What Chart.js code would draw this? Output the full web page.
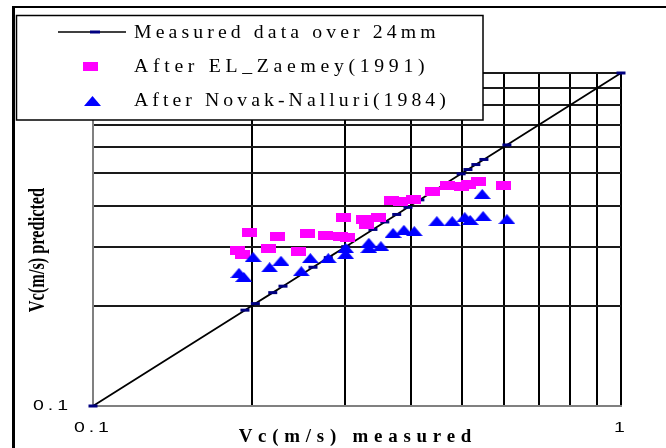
<!DOCTYPE html>
<html><head><meta charset="utf-8">
<script src="https://cdn.jsdelivr.net/npm/chart.js@4.4.1/dist/chart.umd.min.js"></script>
<style>html,body{margin:0;padding:0;background:#fff;}canvas{display:block;}</style>
</head><body>
<canvas id="c" width="666" height="448"></canvas>
<script>
// ---- data ----
const seriesNames = ['Measured data over 24mm', 'After EL_Zaemey(1991)', 'After Novak-Nalluri(1984)'];
const measuredX = [0.1, 0.194, 0.203, 0.219, 0.229, 0.261, 0.279, 0.301, 0.339, 0.357, 0.376, 0.395, 0.416, 0.498, 0.513, 0.531, 0.55, 0.608, 1.0];
const measuredY = [0.1, 0.194, 0.203, 0.219, 0.229, 0.261, 0.279, 0.301, 0.339, 0.357, 0.376, 0.395, 0.416, 0.498, 0.513, 0.531, 0.55, 0.608, 1.0];
const zaemeyX = [0.188, 0.192, 0.198, 0.215, 0.224, 0.245, 0.255, 0.276, 0.294, 0.303, 0.298, 0.326, 0.330, 0.347, 0.368, 0.383, 0.404, 0.440, 0.470, 0.498, 0.515, 0.538, 0.600];
const zaemeyY = [0.294, 0.286, 0.331, 0.298, 0.322, 0.292, 0.329, 0.324, 0.322, 0.320, 0.369, 0.362, 0.350, 0.369, 0.413, 0.410, 0.418, 0.442, 0.458, 0.455, 0.464, 0.471, 0.458];
const novakX = [0.189, 0.193, 0.201, 0.216, 0.227, 0.248, 0.258, 0.279, 0.301, 0.301, 0.333, 0.333, 0.351, 0.370, 0.388, 0.406, 0.448, 0.479, 0.506, 0.518, 0.548, 0.546, 0.608];
const novakY = [0.251, 0.244, 0.280, 0.261, 0.273, 0.254, 0.278, 0.278, 0.298, 0.286, 0.309, 0.298, 0.302, 0.331, 0.338, 0.335, 0.359, 0.359, 0.369, 0.362, 0.372, 0.433, 0.364];
const gridValues = [0.1, 0.2, 0.3, 0.4, 0.5, 0.6, 0.7, 0.8, 0.9, 1];
const xTickValues = [0.1, 1];
const xTickLabels = ['0.1', '1'];
const yTickValues = [0.1];
const yTickLabels = ['0.1'];
const xTitle = 'Vc(m/s) measured';
const yTitle = 'Vc(m/s) predicted';

const zip = (xs, ys) => xs.map((x, i) => ({x: x, y: ys[i]}));

function makeRect(w, h, color) {
  const c = document.createElement('canvas'); c.width = w; c.height = h;
  const g = c.getContext('2d'); g.fillStyle = color; g.fillRect(0, 0, w, h); return c;
}
function makeTri(w, h, color) {
  const c = document.createElement('canvas'); c.width = w; c.height = h;
  const g = c.getContext('2d'); g.fillStyle = color;
  g.beginPath(); g.moveTo(w / 2, 0); g.lineTo(w, h); g.lineTo(0, h); g.closePath(); g.fill(); return c;
}
const rectImg = makeRect(15, 9, '#FF00FF');
const triImg = makeTri(17, 10, '#0000FF');

// draws letter-spaced text, optionally stretched horizontally
function drawSpaced(ctx, text, x, y, align, ls, sx) {
  sx = sx || 1;
  ctx.save();
  ctx.letterSpacing = ls + 'px';
  ctx.textAlign = 'left';
  const w = (ctx.measureText(text).width - ls) * sx;
  const left = align === 'center' ? x - w / 2 : (align === 'right' ? x - w : x);
  ctx.translate(left, y);
  ctx.scale(sx, 1);
  ctx.fillText(text, 0, 0);
  ctx.restore();
}

const decor = {
  id: 'decor',
  beforeDraw(chart) {
    const ctx = chart.ctx;
    ctx.save(); ctx.fillStyle = '#fff'; ctx.fillRect(0, 0, chart.width, chart.height); ctx.restore();
  },
  afterDraw(chart) {
    const ctx = chart.ctx, xs = chart.scales.x, ys = chart.scales.y;
    ctx.save();
    ctx.fillStyle = '#000';
    // tick labels
    ctx.font = '15px "Liberation Sans", Arial, sans-serif';
    ctx.textBaseline = 'middle';
    xTickValues.forEach((v, i) => drawSpaced(ctx, xTickLabels[i], xs.getPixelForValue(v) - 1.5, 428, 'center', 3, 1.3));
    yTickValues.forEach((v, i) => drawSpaced(ctx, yTickLabels[i], 68, ys.getPixelForValue(v), 'right', 3, 1.3));
    // x title
    ctx.font = 'bold 18px "Liberation Serif", "Times New Roman", serif';
    ctx.textBaseline = 'alphabetic';
    drawSpaced(ctx, xTitle, 355, 442, 'center', 5.5, 1.05);
    // y title (condensed)
    ctx.save();
    ctx.translate(38, 250); ctx.rotate(-Math.PI / 2); ctx.scale(0.68, 1);
    ctx.font = 'bold 24px "Liberation Serif", "Times New Roman", serif';
    ctx.textAlign = 'center'; ctx.textBaseline = 'middle';
    ctx.fillText(yTitle, 0, 0);
    ctx.restore();
    // legend box
    ctx.fillStyle = '#fff'; ctx.fillRect(16, 15, 467, 105);
    ctx.strokeStyle = '#000'; ctx.lineWidth = 1.5;
    ctx.strokeRect(16.5, 15.5, 466.5, 104.5);
    // row 1
    ctx.beginPath(); ctx.moveTo(58, 32); ctx.lineTo(126, 32); ctx.lineWidth = 1.5; ctx.strokeStyle = '#000'; ctx.stroke();
    ctx.beginPath(); ctx.moveTo(90, 32); ctx.lineTo(100, 32); ctx.lineWidth = 3; ctx.strokeStyle = '#000080'; ctx.stroke();
    // row 2, 3
    ctx.drawImage(rectImg, 90 - rectImg.width / 2, 66 - rectImg.height / 2);
    ctx.drawImage(triImg, 92.5 - triImg.width / 2, 101 - triImg.height / 2);
    ctx.fillStyle = '#000';
    ctx.font = '19px "Liberation Serif", "Times New Roman", serif';
    ctx.textBaseline = 'alphabetic';
    drawSpaced(ctx, seriesNames[0], 134, 38, 'left', 3.95, 1.04);
    drawSpaced(ctx, seriesNames[1], 134, 72, 'left', 4.5, 1.04);
    drawSpaced(ctx, seriesNames[2], 134, 106, 'left', 3.9, 1.04);
    // outer frame
    ctx.fillStyle = '#000';
    ctx.fillRect(12, 6, 3, 442);
    ctx.fillRect(12, 6, 654, 2);
    ctx.restore();
  }
};

new Chart(document.getElementById('c'), {
  type: 'scatter',
  data: {
    datasets: [
      {label: seriesNames[0], data: zip(measuredX, measuredY), showLine: true, borderColor: '#000', borderWidth: 1.8,
       pointStyle: 'line', pointRadius: 4.5, pointBorderColor: '#000080', pointBackgroundColor: '#000080', pointBorderWidth: 3,
       order: 3, clip: false, tension: 0},
      {label: seriesNames[1], data: zip(zaemeyX, zaemeyY), pointStyle: rectImg, pointRadius: 5, order: 2, clip: false},
      {label: seriesNames[2], data: zip(novakX, novakY), pointStyle: triImg, pointRadius: 5, order: 1, clip: false}
    ]
  },
  options: {
    responsive: false, devicePixelRatio: 1, animation: false,
    layout: {padding: {top: 73, right: 45, left: 0, bottom: 0}},
    plugins: {legend: {display: false}, tooltip: {enabled: false}},
    events: [],
    scales: {
      x: {
        type: 'logarithmic', min: 0.1, max: 1,
        afterBuildTicks(s) { s.ticks = gridValues.map(v => ({value: v})); },
        afterFit(s) { s.height = 42; },
        ticks: {display: false},
        grid: {drawTicks: false, lineWidth: 2, color: c => (c.tick && c.tick.value === 0.1) ? '#808080' : '#000'},
        border: {display: true, color: '#808080', width: 2}
      },
      y: {
        type: 'logarithmic', min: 0.1, max: 1,
        afterBuildTicks(s) { s.ticks = gridValues.map(v => ({value: v})); },
        afterFit(s) { s.width = 93; },
        ticks: {display: false},
        grid: {drawTicks: false, lineWidth: 2, color: c => (c.tick && c.tick.value === 0.1) ? '#808080' : '#1a1a1a'},
        border: {display: true, color: '#808080', width: 2}
      }
    }
  },
  plugins: [decor]
});
</script>
</body></html>
